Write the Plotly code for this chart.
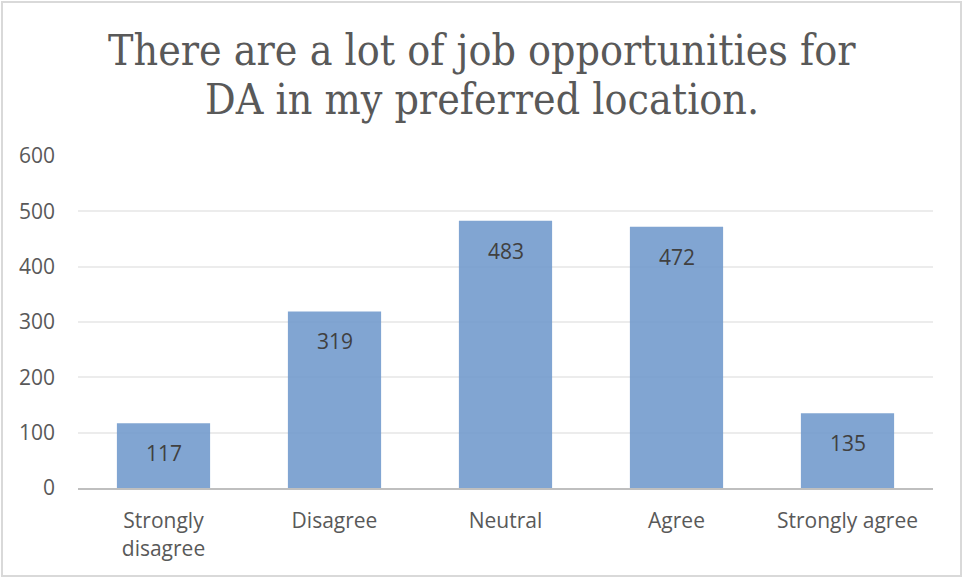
import plotly.graph_objects as go

# Survey responses
categories = ["Strongly disagree", "Disagree", "Neutral", "Agree", "Strongly agree"]
tick_labels = ["Strongly<br>disagree", "Disagree", "Neutral", "Agree", "Strongly agree"]
counts = [117, 319, 483, 472, 135]
y_ticks = [0, 100, 200, 300, 400, 500, 600]
title_lines = ["There are a lot of job opportunities for", "DA in my preferred location."]

W, H = 964, 579
ml, mr, mt, mb = 78, 31, 156, 91
pw, ph = W - ml - mr, H - mt - mb

LABEL_FONT = "Open Sans, Carlito, sans-serif"

fig = go.Figure()
fig.add_trace(go.Bar(
    x=categories,
    y=counts,
    marker=dict(color="rgba(110,152,203,0.87)", line=dict(width=0)),
    width=0.545,
    hoverinfo="x+y",
))

# Value labels inside the top of each bar
for c, v in zip(categories, counts):
    fig.add_annotation(
        x=c, y=v, text=str(v), showarrow=False,
        yanchor="top", yshift=-14,
        font=dict(family=LABEL_FONT, size=21, color="#404040"),
    )

# Two-line chart title, centred on the page
for line, y_px in zip(title_lines, [50, 99]):
    fig.add_annotation(
        text=line, showarrow=False,
        xref="paper", yref="paper",
        x=(W / 2 - ml) / pw, y=(H - mb - y_px) / ph,
        xanchor="center", yanchor="middle",
        font=dict(family="DejaVu Serif Condensed, DejaVu Serif, serif", size=42.5, color="#595959"),
    )

# Outer chart border
fig.add_shape(
    type="rect", xref="paper", yref="paper",
    x0=(2 - ml) / pw, x1=(W - 3 - ml) / pw,
    y0=-(H - 3 - mt - ph) / ph, y1=1 + (mt - 2) / ph,
    line=dict(color="#d9d9d9", width=2), fillcolor="rgba(0,0,0,0)", layer="below",
)

fig.update_layout(
    width=W, height=H,
    margin=dict(l=ml, r=mr, t=mt, b=mb),
    paper_bgcolor="white", plot_bgcolor="white",
    showlegend=False,
    xaxis=dict(
        tickmode="array", tickvals=categories, ticktext=tick_labels,
        tickfont=dict(family=LABEL_FONT, size=21, color="#595959"),
        showline=True, linecolor="#bfbfbf", linewidth=2,
        showgrid=False, ticks="", ticklabelstandoff=13,
    ),
    yaxis=dict(
        range=[0, 600], tickvals=y_ticks,
        tickfont=dict(family=LABEL_FONT, size=21, color="#595959"),
        showgrid=True, gridcolor="#ececec", gridwidth=2,
        zeroline=False, showline=False, ticks="", ticklabelstandoff=22,
    ),
)

fig.write_html("out.html")
